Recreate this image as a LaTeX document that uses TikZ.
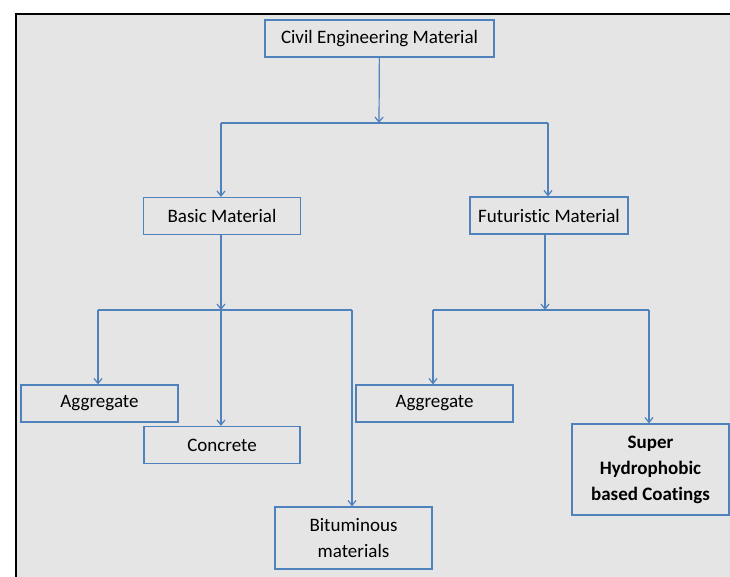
\documentclass[tikz,border=0pt]{standalone}
\usepackage{fontspec}
\setmainfont[Ligatures=NoCommon]{Carlito}
\usetikzlibrary{arrows.meta, positioning}

\definecolor{boxblue}{RGB}{79,129,189}
\definecolor{panelgray}{RGB}{229,229,229}

\begin{document}
\begin{tikzpicture}[x=1pt, y=-1pt,
    every node/.style={font=\fontsize{19}{26}\selectfont, align=center},
    matbox/.style={draw=boxblue, line width=1.2pt, minimum width=157pt, minimum height=37pt, inner sep=0pt},
    link/.style={draw=boxblue, line width=1.2pt},
    arrowlink/.style={link, -{Straight Barb[length=5pt, width=8pt]}}]
                    \useasboundingbox (0,0) rectangle (730,577);
                    \fill[panelgray] (16,14) rectangle (730,577);
                    \draw[line width=2pt] (16,577) -- (16,14) -- (730,14);

                    \node[matbox, minimum width=229pt](civil) at (379.5,38.5){Civil Engineering Material};
                    \node[matbox](basic) at (222,216){Basic Material};
                    \node[matbox, minimum width=158pt](futur) at (549,215.5){Futuristic Material};

                    \node[matbox](aggl) at (99.5,403.5){Aggregate};
                    \node[matbox, minimum width=156pt](conc) at (222,445){Concrete};
                    \node[matbox, minimum height=62pt](bitum) at (353.5,538){Bituminous\\materials};
                    \node[matbox](aggr) at (434.5,403.5){Aggregate};
                    \node[matbox, minimum height=91pt, font=\fontsize{19}{26}\selectfont\bfseries](super) at (650.5,469.5){Super\\Hydrophobic\\based Coatings};

                    \coordinate(topmid) at (379,123);
                    \coordinate(topl) at (221,123);
                    \coordinate(topr) at (548,123);
                    \draw[arrowlink] (civil) -- (topmid);
                    \draw[link] (topl) -- (topr);
                    \draw[arrowlink] (topl) -- (topl |- basic.north);
                    \draw[arrowlink] (topr) -- (topr |- futur.north);

                    \coordinate(basicmid) at (221,310);
                    \coordinate(basicl) at (98,310);
                    \coordinate(basicr) at (352,310);
                    \draw[arrowlink] (basicmid |- basic.south) -- (basicmid);
                    \draw[link] (basicl) -- (basicr);
                    \draw[arrowlink] (basicl) -- (basicl |- aggl.north);
                    \draw[arrowlink] (basicmid) -- (basicmid |- conc.north);
                    \draw[arrowlink] (basicr) -- (basicr |- bitum.north);

                    \coordinate(futurmid) at (545,310);
                    \coordinate(futurl) at (433,310);
                    \coordinate(futurr) at (649,310);
                    \draw[arrowlink] (futurmid |- futur.south) -- (futurmid);
                    \draw[link] (futurl) -- (futurr);
                    \draw[arrowlink] (futurl) -- (futurl |- aggr.north);
                    \draw[arrowlink] (futurr) -- (futurr |- super.north);
                \end{tikzpicture}
\end{document}
